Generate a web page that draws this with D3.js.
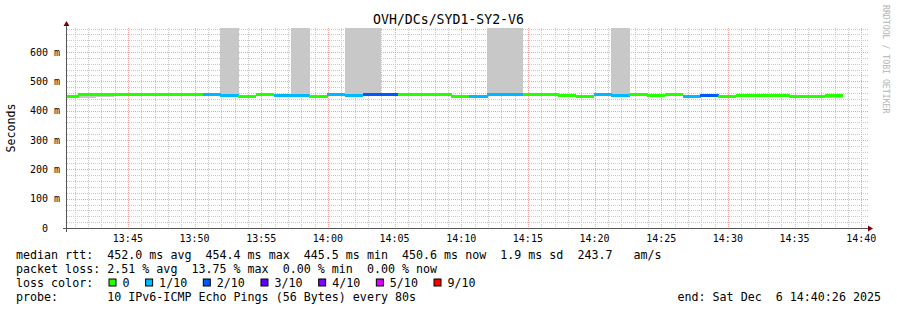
<!DOCTYPE html>
<html>
<head>
<meta charset="utf-8">
<script src="https://cdn.jsdelivr.net/npm/d3@7"></script>
<style>
  body { margin: 0; background: #fff; }
  text { font-family: "DejaVu Sans Mono", monospace; fill: #000; }
  rect.smoke, rect.med { shape-rendering: crispEdges; }
</style>
</head>
<body>
<div id="chart"></div>
<script>
// Samples: one every 80s, first one starts before the graph window.
var startTime = new Date(2025, 11, 6, 13, 40, 26);
var endTime = new Date(2025, 11, 6, 14, 40, 26);
var firstSample = new Date(2025, 11, 6, 13, 39, 56);
var stepSec = 80;

var medianMs = [448, 454, 454, 454, 454, 454, 454, 454, 454, 451, 449, 454, 451, 451, 449,
  454, 451, 454, 455, 454, 454, 454, 450, 449, 454, 454, 455, 454, 451, 450, 454, 451,
  454, 451, 454, 449, 451, 450, 451, 451, 451, 447, 447, 451];
var lossCount = [0, 0, 0, 0, 0, 0, 0, 0, 1, 1, 0, 0, 1, 1, 0, 1, 1, 2, 2, 0, 0, 0, 0, 1,
  1, 1, 0, 0, 0, 0, 1, 1, 0, 0, 0, 1, 2, 0, 0, 0, 0, 0, 0, 0];
var smokeLo = [445, 444, 445, 453, 453, 453, 453, 453, 453, 450, 445, 453, 450, 450, 445,
  453, 450, 453, 454, 453, 453, 453, 449, 448, 453, 453, 454, 453, 446, 449, 453, 450,
  453, 450, 453, 448, 450, 446, 445, 450, 450, 444, 446, 444];
var smokeHi = [449, 455, 455, 455, 455, 455, 455, 455, 455, 1000, 450, 455, 452, 1000, 450,
  455, 1000, 1000, 456, 455, 455, 455, 451, 450, 1000, 1000, 456, 455, 452, 451, 455, 1000,
  455, 452, 455, 450, 452, 451, 452, 452, 452, 448, 452, 452];

var yTicks = [0, 100, 200, 300, 400, 500, 600];
var lossLabels = ['0', '1/10', '2/10', '3/10', '4/10', '5/10', '9/10'];
var lossColors = ['#26ff00', '#00b8ff', '#0059ff', '#5e00ff', '#7e00ff', '#dd00ff', '#ff0000'];

var legendRows = [
  'median rtt:  452.0 ms avg  454.4 ms max  445.5 ms min  450.6 ms now  1.9 ms sd  243.7   am/s',
  'packet loss: 2.51 % avg  13.75 % max  0.00 % min  0.00 % now',
  'loss color:',
  'probe:       10 IPv6-ICMP Echo Pings (56 Bytes) every 80s'
];
var title = 'OVH/DCs/SYD1-SY2-V6';
var endLabel = 'end: Sat Dec  6 14:40:26 2025';

(function() {
var W = 897, H = 310;
var pLeft = 67, pRight = 867, pTop = 28, pBottom = 228;

var svg = d3.select('#chart').append('svg')
  .attr('width', W).attr('height', H);

var x = d3.scaleTime().domain([startTime, endTime]).range([pLeft, pRight]);
var y = d3.scaleLinear().domain([0, 681.9]).range([pBottom, pTop]);

svg.append('defs').append('clipPath').attr('id', 'plot')
  .append('rect').attr('x', pLeft).attr('y', pTop)
  .attr('width', pRight - pLeft + 1).attr('height', pBottom - pTop);

// Grid: minor every minute / 20 m, major every 5 min / 100 m.
var grid = svg.append('g');
var minorT = d3.timeMinute.range(startTime, endTime);
grid.selectAll('line.vminor').data(minorT).enter().append('line')
  .attr('x1', function(d) { return Math.round(x(d)) + 0.5; })
  .attr('x2', function(d) { return Math.round(x(d)) + 0.5; })
  .attr('y1', pTop).attr('y2', pBottom)
  .attr('stroke', function(d) { return d.getMinutes() % 5 == 0 ? '#f4a0a0' : '#c8c8c8'; })
  .attr('stroke-dasharray', '1,1');
var hvals = d3.range(20, 700, 20);
grid.selectAll('line.hminor').data(hvals).enter().append('line')
  .attr('x1', pLeft).attr('x2', pRight + 1)
  .attr('y1', function(d) { return Math.round(y(d)) + 0.5; })
  .attr('y2', function(d) { return Math.round(y(d)) + 0.5; })
  .attr('stroke', function(d) { return d % 100 == 0 ? '#f4a0a0' : '#c8c8c8'; })
  .attr('stroke-dasharray', '1,1');

// Samples.
var samples = medianMs.map(function(m, i) {
  var t0 = new Date(+firstSample + i * stepSec * 1000);
  var t1 = new Date(+t0 + stepSec * 1000);
  return { t0: t0, t1: t1, med: m, loss: lossCount[i], lo: smokeLo[i], hi: smokeHi[i] };
});

var plot = svg.append('g').attr('clip-path', 'url(#plot)');
plot.selectAll('rect.smoke').data(samples).enter().append('rect')
  .classed('smoke', true)
  .attr('x', function(d) { return x(d.t0); })
  .attr('width', function(d) { return x(d.t1) - x(d.t0) + 0.5; })
  .attr('y', function(d) { return y(d.hi); })
  .attr('height', function(d) { return y(d.lo) - y(d.hi); })
  .attr('fill', '#c8c8c8');
plot.selectAll('rect.med').data(samples).enter().append('rect')
  .classed('med', true)
  .attr('x', function(d) { return x(d.t0); })
  .attr('width', function(d) { return x(d.t1) - x(d.t0) + 0.5; })
  .attr('y', function(d) { return y(d.med) - 1.5; })
  .attr('height', 3)
  .attr('fill', function(d) { return lossColors[d.loss]; });

// Axes.
var axisColor = '#555';
svg.append('line').attr('x1', 63).attr('x2', pRight + 3)
  .attr('y1', pBottom + 0.5).attr('y2', pBottom + 0.5).attr('stroke', axisColor);
svg.append('line').attr('x1', pLeft - 0.5).attr('x2', pLeft - 0.5)
  .attr('y1', pBottom + 4).attr('y2', pTop - 4).attr('stroke', axisColor);
svg.append('path').attr('d', 'M' + (pRight + 1) + ',' + (pBottom - 2.5) + 'L' + (pRight + 6) + ',' + (pBottom + 0.5) + 'L' + (pRight + 1) + ',' + (pBottom + 3.5) + 'Z')
  .attr('fill', '#7f0000');
svg.append('path').attr('d', 'M' + (pLeft - 3.5) + ',' + (pTop - 2) + 'L' + (pLeft - 0.5) + ',' + (pTop - 7) + 'L' + (pLeft + 2.5) + ',' + (pTop - 2) + 'Z')
  .attr('fill', '#7f0000');

// Tick labels.
svg.selectAll('text.ylab').data(yTicks).enter().append('text')
  .attr('x', 48).attr('y', function(d) { return y(d) + 3.5; })
  .attr('text-anchor', 'end').style('font-size', '10px')
  .text(function(d) { return d; });
svg.selectAll('text.yunit').data(yTicks.filter(function(d) { return d > 0; })).enter().append('text')
  .attr('x', 54).attr('y', function(d) { return y(d) + 3.5; })
  .style('font-size', '10px').text('m');

var fmt = d3.timeFormat('%H:%M');
svg.selectAll('text.xlab').data(d3.timeMinute.every(5).range(startTime, endTime)).enter().append('text')
  .attr('x', function(d) { return x(d); }).attr('y', 242)
  .attr('text-anchor', 'middle').style('font-size', '10px')
  .text(fmt);

svg.append('text').attr('transform', 'translate(15,' + ((pTop + pBottom) / 2) + ') rotate(-90)')
  .attr('text-anchor', 'middle').style('font-size', '11.6px').text('Seconds');

svg.append('text').attr('x', W / 2).attr('y', 24).attr('text-anchor', 'middle')
  .style('font-size', '13.2px').text(title);

svg.append('text').attr('transform', 'translate(883,5) rotate(90)')
  .style('font-size', '8.2px').style('fill', '#b4b4b4').text('RRDTOOL / TOBI OETIKER');

// Legend.
var rowY = [258.5, 272.5, 286.5, 300.5];
svg.selectAll('text.leg').data(legendRows).enter().append('text')
  .attr('x', 16).attr('y', function(d, i) { return rowY[i]; })
  .attr('xml:space', 'preserve').style('white-space', 'pre')
  .style('font-size', '11.66px')
  .text(function(d) { return d; });

var sx = 108.5;
lossLabels.forEach(function(lab, i) {
  svg.append('rect').attr('x', sx + 0.5).attr('y', rowY[2] - 7.5)
    .attr('width', 7).attr('height', 7)
    .attr('fill', lossColors[i]).attr('stroke', '#000');
  svg.append('text').attr('x', sx + 14).attr('y', rowY[2])
    .style('font-size', '11.66px').text(lab);
  sx += 14 + lab.length * 7.02 + 15.6;
});

svg.append('text').attr('x', 881).attr('y', rowY[3]).attr('text-anchor', 'end')
  .attr('xml:space', 'preserve').style('white-space', 'pre')
  .style('font-size', '11.66px').text(endLabel);
})();
</script>
</body>
</html>
